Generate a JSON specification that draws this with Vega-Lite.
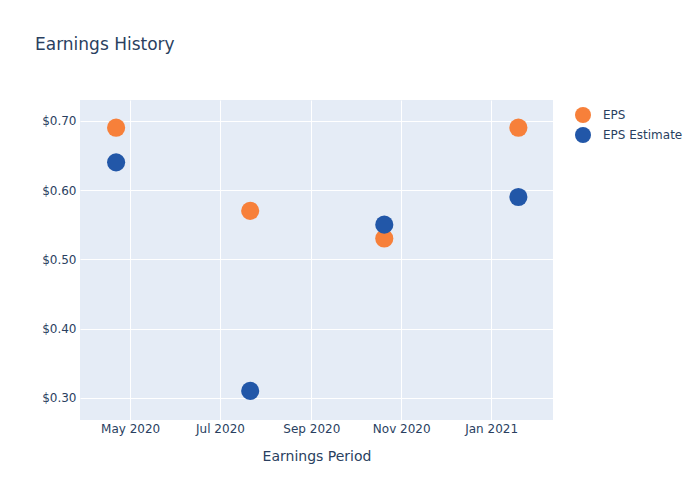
{
  "$schema": "https://vega.github.io/schema/vega-lite/v6.json",
  "width": 473,
  "height": 320,
  "autosize": {"type": "none"},
  "padding": {"left": 80, "top": 100, "right": 147, "bottom": 80},
  "background": "white",
  "title": {"text": "Earnings History", "anchor": "start", "frame": "group", "dx": -45, "offset": 46, "font": "DejaVu Sans", "fontSize": 17, "fontWeight": "normal", "color": "#2a3f5f"},
  "config": {
    "view": {"fill": "#E5ECF6", "stroke": null},
    "font": "DejaVu Sans",
    "axis": {"domain": false, "ticks": false, "gridColor": "white", "gridWidth": 1, "labelColor": "#2a3f5f", "titleColor": "#2a3f5f", "labelFontSize": 12, "titleFontSize": 14, "titleFontWeight": "normal", "labelFont": "DejaVu Sans", "titleFont": "DejaVu Sans"}
  },
  "data": {"values": [
    {"date": "2020-04-21T12:00:00Z", "type": "EPS", "value": 0.69},
    {"date": "2020-07-21T12:00:00Z", "type": "EPS", "value": 0.57},
    {"date": "2020-10-20T12:00:00Z", "type": "EPS", "value": 0.53},
    {"date": "2021-01-19T12:00:00Z", "type": "EPS", "value": 0.69},
    {"date": "2020-04-21T12:00:00Z", "type": "EPS Estimate", "value": 0.64},
    {"date": "2020-07-21T12:00:00Z", "type": "EPS Estimate", "value": 0.31},
    {"date": "2020-10-20T12:00:00Z", "type": "EPS Estimate", "value": 0.55},
    {"date": "2021-01-19T12:00:00Z", "type": "EPS Estimate", "value": 0.59}
  ]},
  "mark": {"type": "point", "filled": true, "opacity": 1, "size": 330, "shape": "circle"},
  "encoding": {
    "x": {"field": "date", "type": "temporal", "title": "Earnings Period",
      "scale": {"type": "utc", "domain": [{"year": 2020, "month": 3, "date": 28, "utc": true}, {"year": 2021, "month": 2, "date": 12, "utc": true}], "nice": false},
      "axis": {"labelExpr": "utcFormat(datum.value, '%b %Y')", "tickCount": {"interval": "month", "step": 2}, "labelPadding": 3, "titlePadding": 15}},
    "y": {"field": "value", "type": "quantitative", "title": null,
      "scale": {"domain": [0.268, 0.73], "nice": false, "zero": false},
      "axis": {"values": [0.3, 0.4, 0.5, 0.6, 0.7], "format": "$.2f", "labelPadding": 4}},
    "color": {"field": "type", "type": "nominal", "title": null,
      "scale": {"domain": ["EPS", "EPS Estimate"], "range": ["#F7803A", "#2257A8"]},
      "legend": {"orient": "none", "legendX": 494, "legendY": 6, "symbolSize": 256, "symbolType": "circle", "labelFontSize": 12, "labelColor": "#2a3f5f", "rowPadding": 3, "labelOffset": 11}}
  }
}
